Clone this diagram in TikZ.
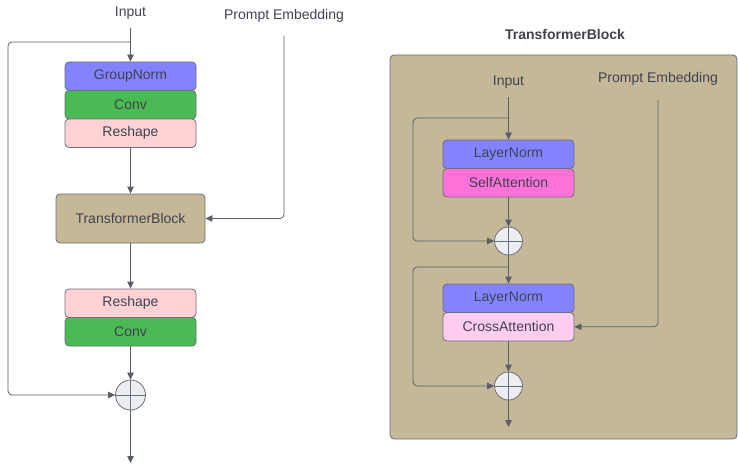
\documentclass[tikz,border=0pt]{standalone}
\usepackage{fontspec}
\setmainfont{Liberation Sans}
\usetikzlibrary{arrows.meta}

\definecolor{normblue}{HTML}{8383FF}
\definecolor{convgreen}{HTML}{4ABA54}
\definecolor{reshapepink}{HTML}{FFD3D5}
\definecolor{tblocktan}{HTML}{C4B898}
\definecolor{selfpink}{HTML}{FF72D7}
\definecolor{crosspink}{HTML}{FFCDF0}
\definecolor{sumfill}{HTML}{EDEEF3}
\definecolor{wire}{HTML}{5A5E66}
\definecolor{ink}{HTML}{404250}
\definecolor{edge}{HTML}{6C6E78}

\tikzset{
  lbl/.style={font=\fontsize{14}{16}\selectfont, text=ink, inner sep=0pt},
  title/.style={font=\fontsize{14}{16}\selectfont\bfseries, text=ink, inner sep=0pt},
  layer/.style={draw=edge, line width=0.8pt, rounded corners=4pt,
    minimum width=131pt, minimum height=28.5pt, inner sep=0pt,
    font=\fontsize{14}{16}\selectfont, text=ink},
  sum/.style={circle, draw=edge, fill=sumfill, line width=0.8pt,
    minimum size=#1, inner sep=0pt,
    path picture={\draw[edge, line width=0.8pt]
      (path picture bounding box.north) -- (path picture bounding box.south)
      (path picture bounding box.west) -- (path picture bounding box.east);}},
  conn/.style={draw=wire, line width=0.8pt, rounded corners=4pt,
    -{Triangle[length=7pt,width=6.5pt]}},
}

\begin{document}
\begin{tikzpicture}[x=1pt, y=-1pt]
\useasboundingbox (0,0) rectangle (738,465);

% ---------------- UNet-style block ----------------
\node[lbl] (inL) at (130.5,13) {Input};
\node[lbl] (peL) at (284,16) {Prompt Embedding};

\node[layer, fill=normblue]    (gn)  at (130.5,76.25)  {GroupNorm};
\node[layer, fill=convgreen]   (cv1) at (130.5,104.75) {Conv};
\node[layer, fill=reshapepink] (rs1) at (130.5,133.25) {Reshape};

\node[layer, fill=tblocktan, minimum width=149pt, minimum height=49pt]
  (tb) at (130.5,218.5) {TransformerBlock};

\node[layer, fill=reshapepink] (rs2) at (130.5,303.25) {Reshape};
\node[layer, fill=convgreen]   (cv2) at (130.5,331.75) {Conv};

\node[sum=30pt] (sumL) at (130.5,395) {};

\coordinate (inLs)   at (130.5,28);
\coordinate (brL)    at (130.5,42);
\coordinate (railL)  at (8,42);
\coordinate (peLs)   at (284,36);
\coordinate (outL)   at (130.5,463);

\draw[conn] (inLs) -- (gn.north);
\draw[conn] (brL) -- (railL) |- (sumL.west);
\draw[conn] (rs1.south) -- (tb.north);
\draw[conn] (peLs) |- (tb.east);
\draw[conn] (tb.south) -- (rs2.north);
\draw[conn] (cv2.south) -- (sumL.north);
\draw[conn] (sumL.south) -- (outL);

% ---------------- TransformerBlock detail ----------------
\node[title] (ttl) at (565,34) {TransformerBlock};
\node[draw=edge, fill=tblocktan, line width=0.8pt, rounded corners=4pt,
      minimum width=347pt, minimum height=384pt, inner sep=0pt]
  (box) at (563.5,247) {};

\node[lbl] (inR) at (508.5,82) {Input};
\node[lbl] (peR) at (658,79) {Prompt Embedding};

\node[layer, fill=normblue]  (ln1) at (508.5,154.25) {LayerNorm};
\node[layer, fill=selfpink]  (sa)  at (508.5,182.75) {SelfAttention};
\node[sum=28pt] (s1) at (508.5,241) {};

\node[layer, fill=normblue]  (ln2) at (508.5,298.25) {LayerNorm};
\node[layer, fill=crosspink] (ca)  at (508.5,326.75) {CrossAttention};
\node[sum=28pt] (s2) at (508.5,386) {};

\coordinate (inRs)  at (508.5,97);
\coordinate (brR1)  at (508.5,118);
\coordinate (railR1) at (413,118);
\coordinate (brR2)  at (508.5,267);
\coordinate (railR2) at (413,267);
\coordinate (peRs)  at (658,100);
\coordinate (outR)  at (508.5,427);

\draw[conn] (inRs) -- (ln1.north);
\draw[conn] (brR1) -- (railR1) |- (s1.west);
\draw[conn] (sa.south) -- (s1.north);
\draw[conn] (s1.south) -- (ln2.north);
\draw[conn] (brR2) -- (railR2) |- (s2.west);
\draw[conn] (peRs) |- (ca.east);
\draw[conn] (ca.south) -- (s2.north);
\draw[conn] (s2.south) -- (outR);
\end{tikzpicture}
\end{document}
